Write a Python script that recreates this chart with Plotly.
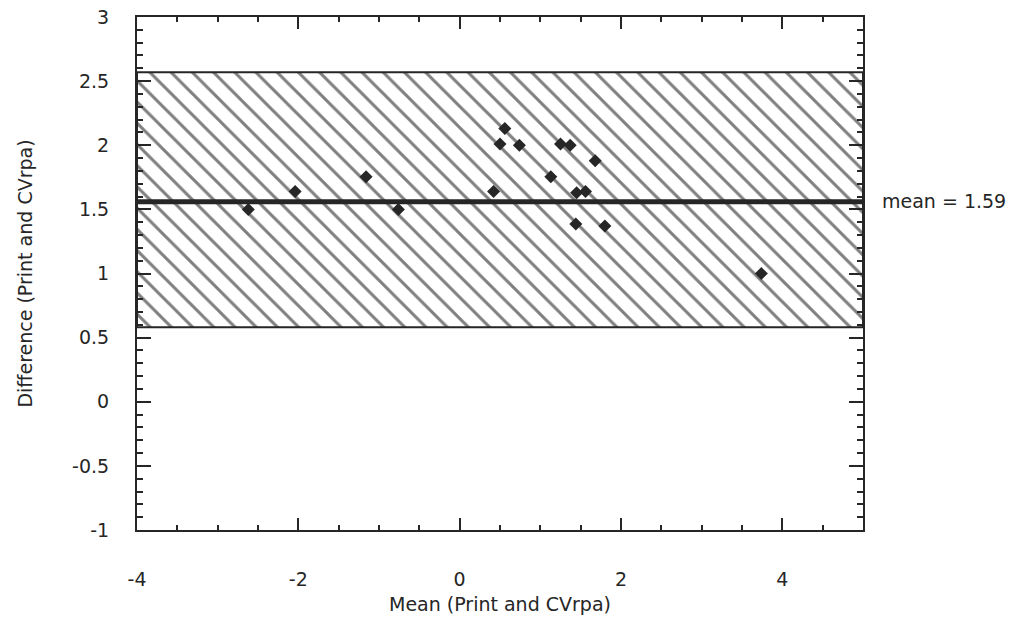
import plotly.graph_objects as go

# Data
mean_vals = [-2.62, -2.04, -1.16, -0.76, 0.42, 0.50, 0.56, 0.74, 1.13, 1.25,
             1.37, 1.44, 1.45, 1.56, 1.68, 1.80, 3.74]
diff_vals = [1.50, 1.64, 1.755, 1.50, 1.64, 2.01, 2.13, 2.00, 1.755, 2.01,
             2.00, 1.385, 1.63, 1.64, 1.88, 1.37, 1.00]

mean_line = 1.56
mean_label = "mean = 1.59"
upper_limit = 2.57
lower_limit = 0.58

x_range = [-4, 5]
y_range = [-1, 3]
x_ticks = [-4, -2, 0, 2, 4]
x_ticktext = ["-4", "-2", "0", "2", "4"]
y_ticks = [-1, -0.5, 0, 0.5, 1, 1.5, 2, 2.5, 3]
y_ticktext = ["-1", "-0.5", "0", "0.5", "1", "1.5", "2", "2.5", "3"]

INK = "#262626"
FONT = "DejaVu Sans"

fig = go.Figure()

# Hatched limits-of-agreement band
fig.add_trace(go.Scatter(
    x=[x_range[0], x_range[1], x_range[1], x_range[0], x_range[0]],
    y=[lower_limit, lower_limit, upper_limit, upper_limit, lower_limit],
    mode="lines", fill="toself",
    fillcolor="white",
    fillpattern=dict(shape="\\", size=15, solidity=0.2, fgcolor="#000000", bgcolor="white"),
    line=dict(color=INK, width=2),
    hoverinfo="skip", showlegend=False,
))

# Mean line
fig.add_trace(go.Scatter(
    x=x_range, y=[mean_line, mean_line], mode="lines",
    line=dict(color=INK, width=5), showlegend=False, cliponaxis=False,
))

# Data points
fig.add_trace(go.Scatter(
    x=mean_vals, y=diff_vals, mode="markers",
    marker=dict(symbol="diamond", size=10, color=INK),
    showlegend=False,
))

fig.add_annotation(
    x=x_range[1], y=mean_line, xref="x", yref="y",
    text=mean_label, showarrow=False, xanchor="left", xshift=17, yshift=1,
    font=dict(family=FONT, size=19, color=INK),
)

axis_common = dict(
    showgrid=False, zeroline=False,
    showline=True, linecolor=INK, linewidth=2,
    mirror="allticks", ticks="inside", tickcolor=INK, tickwidth=2,
    tickfont=dict(family=FONT, size=19, color=INK),
)

fig.update_xaxes(
    range=x_range, tickvals=x_ticks, ticktext=x_ticktext, ticklen=12,
    minor=dict(dtick=0.5, ticks="inside", ticklen=5, tickcolor=INK, tickwidth=1.5),
    ticklabelstandoff=31,
    title=dict(text="Mean (Print and CVrpa)", font=dict(family=FONT, size=19, color=INK), standoff=9),
    **axis_common,
)
fig.update_yaxes(
    range=y_range, tickvals=y_ticks, ticktext=y_ticktext, ticklen=14,
    minor=dict(dtick=0.1, ticks="inside", ticklen=6, tickcolor=INK, tickwidth=1.5),
    ticklabelstandoff=22,
    title=dict(text="Difference (Print and CVrpa)", font=dict(family=FONT, size=19, color=INK), standoff=34),
    **axis_common,
)

fig.update_layout(
    width=1018, height=619,
    margin=dict(l=137, r=155, t=17, b=89, autoexpand=False),
    paper_bgcolor="white", plot_bgcolor="white",
    showlegend=False,
)

fig.write_html("out.html")
